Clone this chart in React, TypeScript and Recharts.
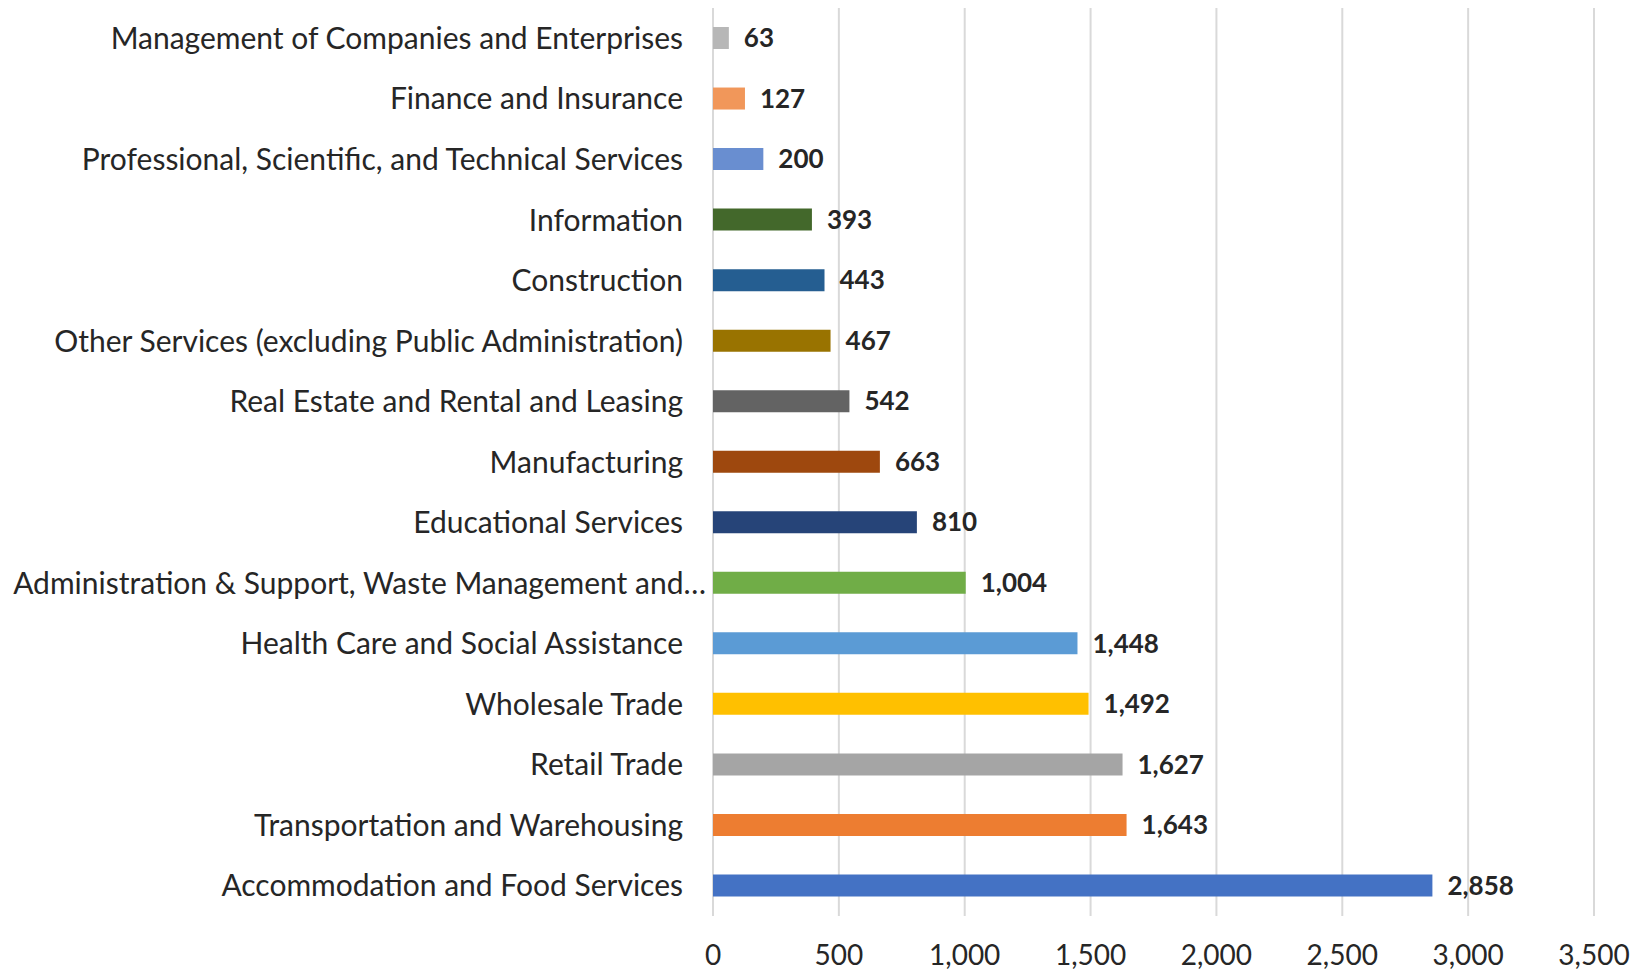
import React from 'react';
import { BarChart, Bar, XAxis, YAxis, CartesianGrid, Cell, LabelList } from 'recharts';

const industries = [
  'Management of Companies and Enterprises',
  'Finance and Insurance',
  'Professional, Scientific, and Technical Services',
  'Information',
  'Construction',
  'Other Services (excluding Public Administration)',
  'Real Estate and Rental and Leasing',
  'Manufacturing',
  'Educational Services',
  'Administration & Support, Waste Management and…',
  'Health Care and Social Assistance',
  'Wholesale Trade',
  'Retail Trade',
  'Transportation and Warehousing',
  'Accommodation and Food Services',
];

const counts = [63, 127, 200, 393, 443, 467, 542, 663, 810, 1004, 1448, 1492, 1627, 1643, 2858];

const barColors = [
  '#B7B7B7', '#F1975A', '#698ED0', '#43682B', '#255E91', '#997300', '#636363',
  '#9E480E', '#264478', '#70AD47', '#5B9BD5', '#FFC000', '#A5A5A5', '#ED7D31', '#4472C4',
];

const xTicks = [0, 500, 1000, 1500, 2000, 2500, 3000, 3500];

const data = industries.map((name, i) => ({ name, value: counts[i] }));

const fmt = (v: number) => Number(v).toLocaleString('en-US');

const font = 'Lato, sans-serif';

// truncated labels in the original spill a bit past the axis
const CategoryTick = (props: any) => {
  const { x, y, payload } = props;
  const label = String(payload.value);
  const shift = label.endsWith('…') ? 23 : 0;
  return (
    <text
      x={x + shift}
      y={y}
      dy="0.355em"
      textAnchor="end"
      fontSize={30}
      fill="#262626"
      fontFamily={font}
    >
      {label}
    </text>
  );
};

export default function App() {
  return (
    <div style={{ position: 'absolute', left: 0, top: 0, background: '#fff', fontFamily: font }}>
      <BarChart
        width={1635}
        height={972}
        data={data}
        layout="vertical"
        margin={{ top: 8, right: 41, bottom: 6, left: 0 }}
      >
        <CartesianGrid horizontal={false} stroke="#d9d9d9" strokeWidth={2} />
        <XAxis
          type="number"
          domain={[0, 3500]}
          ticks={xTicks}
          tickFormatter={fmt}
          axisLine={false}
          tickLine={false}
          height={50}
          tickMargin={23}
          tick={{ fontSize: 28, fill: '#262626', fontFamily: font }}
          interval={0}
        />
        <YAxis
          type="category"
          dataKey="name"
          width={713}
          axisLine={false}
          tickLine={false}
          tickMargin={24}
          interval={0}
          tick={<CategoryTick />}
        />
        <Bar dataKey="value" barSize={22} isAnimationActive={false}>
          {data.map((d, i) => (
            <Cell key={d.name} fill={barColors[i]} />
          ))}
          <LabelList
            dataKey="value"
            position="right"
            offset={15}
            formatter={(v: any) => fmt(v)}
            style={{ fontSize: 26, fontWeight: 700, fill: '#262626', fontFamily: font }}
          />
        </Bar>
      </BarChart>
    </div>
  );
}
